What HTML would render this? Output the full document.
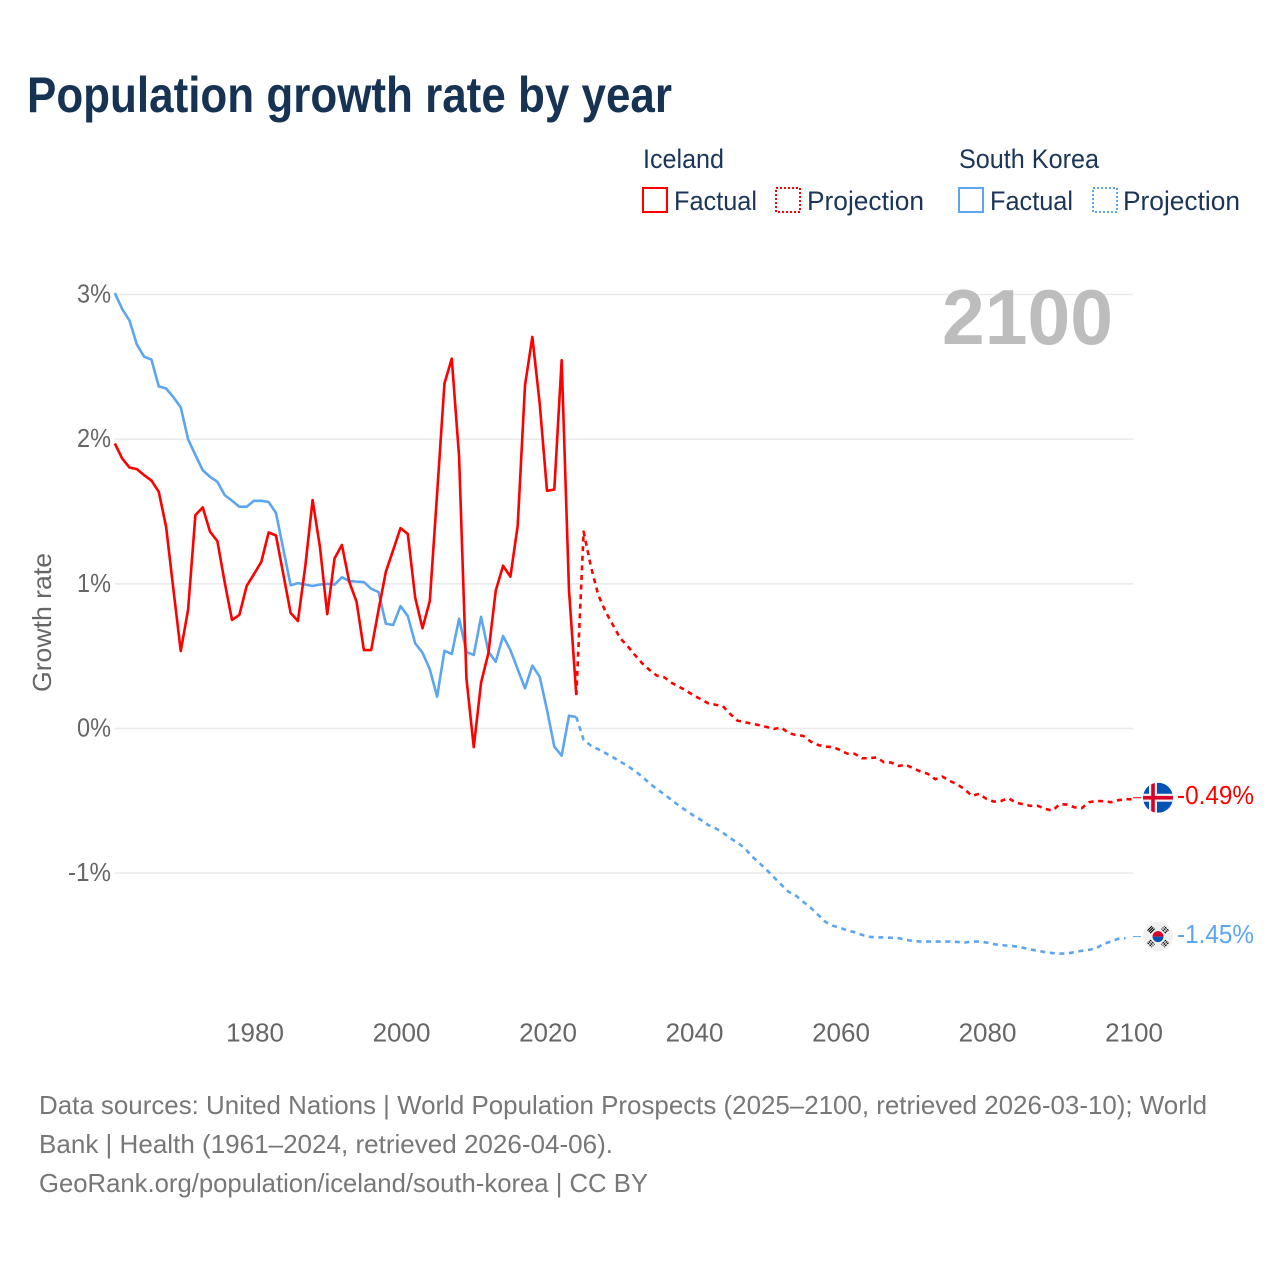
<!DOCTYPE html>
<html lang="en">
<head>
<meta charset="utf-8">
<title>Population growth rate by year</title>
<style>
html,body{margin:0;padding:0;background:#fff;}
svg{display:block;font-family:"Liberation Sans",sans-serif;}
.legend{font-size:27px;fill:#1b3558;}
.tick{font-size:26px;fill:#666;}
.foot{font-size:26px;fill:#777;}
</style>
</head>
<body>
<svg id="chart" xmlns="http://www.w3.org/2000/svg" width="1280" height="1280" viewBox="0 0 1280 1280">
  <rect width="1280" height="1280" fill="#fff"/>
  <text x="27" y="112" font-size="50" font-weight="700" fill="#163354" textLength="645" lengthAdjust="spacingAndGlyphs">Population growth rate by year</text>

  <g>
    <text class="legend" x="643" y="168" textLength="81" lengthAdjust="spacingAndGlyphs">Iceland</text>
    <rect x="643" y="188" width="24" height="24" fill="none" stroke="#ff0000" stroke-width="2"/>
    <text class="legend" x="674" y="210" textLength="83" lengthAdjust="spacingAndGlyphs">Factual</text>
    <rect x="776" y="188" width="24" height="24" fill="none" stroke="#ff0000" stroke-width="2" stroke-dasharray="2 2"/>
    <text class="legend" x="807" y="210" textLength="117" lengthAdjust="spacingAndGlyphs">Projection</text>

    <text class="legend" x="959" y="168" textLength="140" lengthAdjust="spacingAndGlyphs">South Korea</text>
    <rect x="959" y="188" width="24" height="24" fill="none" stroke="#5ca6f0" stroke-width="2"/>
    <text class="legend" x="990" y="210" textLength="83" lengthAdjust="spacingAndGlyphs">Factual</text>
    <rect x="1093" y="188" width="24" height="24" fill="none" stroke="#5ca6f0" stroke-width="2" stroke-dasharray="2 2"/>
    <text class="legend" x="1123" y="210" textLength="117" lengthAdjust="spacingAndGlyphs">Projection</text>
  </g>

  <g id="grid"></g>
  <g id="yticks"></g>
  <g id="xticks"></g>

  <text transform="translate(51,622.5) rotate(-90)" text-anchor="middle" font-size="26" fill="#666" textLength="139" lengthAdjust="spacingAndGlyphs">Growth rate</text>
  <text x="942" y="344" font-size="78" font-weight="700" fill="#bdbdbd" textLength="171" lengthAdjust="spacingAndGlyphs">2100</text>

  <path id="line-iceland-projection" fill="none" stroke="#ff0000" stroke-width="2.6" stroke-dasharray="5 4.6" stroke-linejoin="round"/>
  <path id="line-korea-projection" fill="none" stroke="#5ca6f0" stroke-width="2.6" stroke-dasharray="5 4.6" stroke-linejoin="round"/>
  <path id="line-korea-factual" fill="none" stroke="#5ca6f0" stroke-width="2.6" stroke-linejoin="round"/>
  <path id="line-iceland-factual" fill="none" stroke="#ff0000" stroke-width="2.6" stroke-linejoin="round"/>

  <line id="stub-iceland" stroke="#ff0000" stroke-width="1"/>
  <line id="stub-korea" stroke="#5ca6f0" stroke-width="1"/>

  <defs>
    <clipPath id="flag-clip"><circle cx="0" cy="0" r="15"/></clipPath>
  </defs>

  <g id="flag-iceland" clip-path="url(#flag-clip)">
    <rect x="-15" y="-15" width="30" height="30" fill="#0052b4"/>
    <rect x="-9" y="-15" width="8" height="30" fill="#f0f0f0"/>
    <rect x="-15" y="-4" width="30" height="8" fill="#f0f0f0"/>
    <rect x="-6.8" y="-15" width="3.6" height="30" fill="#d80027"/>
    <rect x="-15" y="-1.8" width="30" height="3.6" fill="#d80027"/>
  </g>

  <g id="flag-korea" clip-path="url(#flag-clip)">
    <circle r="15" fill="#f0f0f0"/>
    <path d="M-5.5 0A5.5 5.5 0 0 1 5.5 0Z" fill="#d80027"/>
    <path d="M-5.5 0A5.5 5.5 0 0 0 5.5 0Z" fill="#0052b4"/>
    <g stroke="#000" stroke-width="1.1" fill="none">
      <path d="M-10.5 -6L-6 -10.5M-9.2 -4.7L-4.7 -9.2M-7.9 -3.4L-3.4 -7.9"/>
      <path d="M10.5 -6L6 -10.5M9.2 -4.7L4.7 -9.2M7.9 -3.4L3.4 -7.9" stroke-dasharray="2 0.8"/>
      <path d="M-10.5 6L-6 10.5M-9.2 4.7L-4.7 9.2M-7.9 3.4L-3.4 7.9" stroke-dasharray="2 0.8"/>
      <path d="M10.5 6L6 10.5M9.2 4.7L4.7 9.2M7.9 3.4L3.4 7.9" stroke-dasharray="2 0.8"/>
    </g>
  </g>

  <text id="label-iceland" font-size="26" fill="#ff0000" textLength="77" lengthAdjust="spacingAndGlyphs"></text>
  <text id="label-korea" font-size="26" fill="#5ca6f0" textLength="77" lengthAdjust="spacingAndGlyphs"></text>

  <g>
    <text class="foot" x="39" y="1114" textLength="1168" lengthAdjust="spacingAndGlyphs">Data sources: United Nations | World Population Prospects (2025–2100, retrieved 2026-03-10); World</text>
    <text class="foot" x="39" y="1153" textLength="574" lengthAdjust="spacingAndGlyphs">Bank | Health (1961–2024, retrieved 2026-04-06).</text>
    <text class="foot" x="39" y="1192" textLength="609" lengthAdjust="spacingAndGlyphs">GeoRank.org/population/iceland/south-korea | CC BY</text>
  </g>
</svg>

<script>
const factualStartYear = 1961;
const projectionStartYear = 2024;

const icelandFactual = [
  1.97,1.867,1.804,1.793,1.751,1.714,1.636,1.394,0.96,0.535,
  0.82,1.475,1.528,1.36,1.295,1.01,0.75,0.785,0.985,1.067,
  1.152,1.355,1.334,1.067,0.798,0.743,1.12,1.579,1.256,0.79,
  1.176,1.268,1.014,0.876,0.542,0.542,0.819,1.083,1.233,1.385,
  1.344,0.906,0.692,0.881,1.625,2.385,2.557,1.878,0.347,-0.13,
  0.316,0.52,0.952,1.125,1.049,1.401,2.373,2.707,2.247,1.643,
  1.652,2.546,0.957,0.231
];

const koreaFactual = [
  3.01,2.9,2.82,2.655,2.57,2.55,2.365,2.35,2.29,2.22,
  2.0,1.89,1.785,1.74,1.705,1.613,1.574,1.533,1.533,1.574,
  1.574,1.565,1.49,1.24,0.99,1.005,0.995,0.985,0.995,1.0,
  0.995,1.045,1.02,1.015,1.012,0.965,0.943,0.724,0.715,0.846,
  0.777,0.589,0.524,0.409,0.22,0.537,0.515,0.759,0.528,0.508,
  0.772,0.531,0.461,0.639,0.542,0.409,0.278,0.434,0.358,0.128,
  -0.126,-0.188,0.088,0.079
];

const icelandProjection = [
  0.231,1.36,1.118,0.922,0.807,0.715,0.623,0.57,0.508,0.45,0.404,
  0.365,0.354,0.316,0.289,0.261,0.229,0.202,0.174,0.164,0.155,
  0.1,0.054,0.043,0.033,0.022,0.01,-0.003,0.006,-0.033,-0.045,
  -0.052,-0.091,-0.114,-0.126,-0.128,-0.149,-0.174,-0.175,-0.206,-0.206,
  -0.2,-0.234,-0.236,-0.259,-0.252,-0.275,-0.298,-0.314,-0.351,-0.333,
  -0.363,-0.386,-0.42,-0.466,-0.452,-0.487,-0.506,-0.501,-0.482,-0.513,
  -0.524,-0.535,-0.535,-0.556,-0.568,-0.524,-0.526,-0.545,-0.551,-0.51,
  -0.501,-0.503,-0.51,-0.496,-0.489,-0.49
];

const koreaProjection = [
  0.079,-0.079,-0.119,-0.144,-0.171,-0.199,-0.229,-0.259,-0.294,-0.333,-0.379,
  -0.42,-0.455,-0.494,-0.533,-0.568,-0.602,-0.632,-0.667,-0.69,-0.72,
  -0.759,-0.789,-0.828,-0.885,-0.931,-0.978,-1.03,-1.081,-1.13,-1.157,
  -1.199,-1.24,-1.288,-1.337,-1.364,-1.378,-1.396,-1.409,-1.427,-1.44,
  -1.445,-1.445,-1.447,-1.45,-1.461,-1.47,-1.473,-1.473,-1.473,-1.473,
  -1.473,-1.476,-1.48,-1.473,-1.473,-1.48,-1.491,-1.498,-1.502,-1.507,
  -1.516,-1.528,-1.537,-1.546,-1.553,-1.556,-1.556,-1.546,-1.537,-1.53,
  -1.519,-1.489,-1.473,-1.454,-1.45
];

const xTickYears = [1980,2000,2020,2040,2060,2080,2100];
const xTickLabels = ["1980","2000","2020","2040","2060","2080","2100"];
const yTickValues = [3,2,1,0,-1];
const yTickLabels = ["3%","2%","1%","0%","-1%"];

const SVGNS = "http://www.w3.org/2000/svg";

function xScale(year){ return 1133 - (2100 - year) * 7.325; }
function yScale(v){ return 728.45 - v * 144.65; }

function linePath(values, startYear){
  return values.map(function(v, i){
    return (i ? "L" : "M") + xScale(startYear + i).toFixed(2) + " " + yScale(v).toFixed(2);
  }).join("");
}

document.getElementById("line-iceland-factual").setAttribute("d", linePath(icelandFactual, factualStartYear));
document.getElementById("line-korea-factual").setAttribute("d", linePath(koreaFactual, factualStartYear));
document.getElementById("line-iceland-projection").setAttribute("d", linePath(icelandProjection, projectionStartYear));
document.getElementById("line-korea-projection").setAttribute("d", linePath(koreaProjection, projectionStartYear));

const gridGroup = document.getElementById("grid");
const yTickGroup = document.getElementById("yticks");
yTickValues.forEach(function(v, i){
  const gl = document.createElementNS(SVGNS, "line");
  
  
  gl.setAttribute("x1", 115);
  gl.setAttribute("x2", 1133);
  gl.setAttribute("y1", yScale(v));
  gl.setAttribute("y2", yScale(v));
  gl.setAttribute("stroke", "#ebebeb");
  gl.setAttribute("stroke-width", 1.6);
  gridGroup.appendChild(gl);

  const t = document.createElementNS(SVGNS, "text");
  
  
  t.setAttribute("class", "tick");
  t.setAttribute("x", 111);
  t.setAttribute("y", yScale(v) + 8);
  t.setAttribute("text-anchor", "end");
  t.setAttribute("textLength", yTickLabels[i].length === 2 ? 34 : 43);
  t.setAttribute("lengthAdjust", "spacingAndGlyphs");
  t.textContent = yTickLabels[i];
  yTickGroup.appendChild(t);
});

const xTickGroup = document.getElementById("xticks");
xTickYears.forEach(function(year, i){
  const t = document.createElementNS(SVGNS, "text");
  
  
  t.setAttribute("class", "tick");
  t.setAttribute("x", xScale(year) + 1);
  t.setAttribute("y", 1041.5);
  t.setAttribute("text-anchor", "middle");
  t.textContent = xTickLabels[i];
  xTickGroup.appendChild(t);
});

function placeEnd(values, flagId, stubId, labelId){
  const last = values[values.length - 1];
  const ey = yScale(last);
  document.getElementById(flagId).setAttribute("transform", "translate(1158," + (ey - 1.6) + ")");
  const stub = document.getElementById(stubId);
  stub.setAttribute("x1", xScale(2100));
  stub.setAttribute("x2", 1141);
  stub.setAttribute("y1", ey - 1.6);
  stub.setAttribute("y2", ey - 1.6);
  const lab = document.getElementById(labelId);
  lab.setAttribute("x", 1177);
  lab.setAttribute("y", ey + 4.8);
  lab.textContent = last.toFixed(2) + "%";
}
placeEnd(icelandProjection, "flag-iceland", "stub-iceland", "label-iceland");
placeEnd(koreaProjection, "flag-korea", "stub-korea", "label-korea");
</script>
</body>
</html>
